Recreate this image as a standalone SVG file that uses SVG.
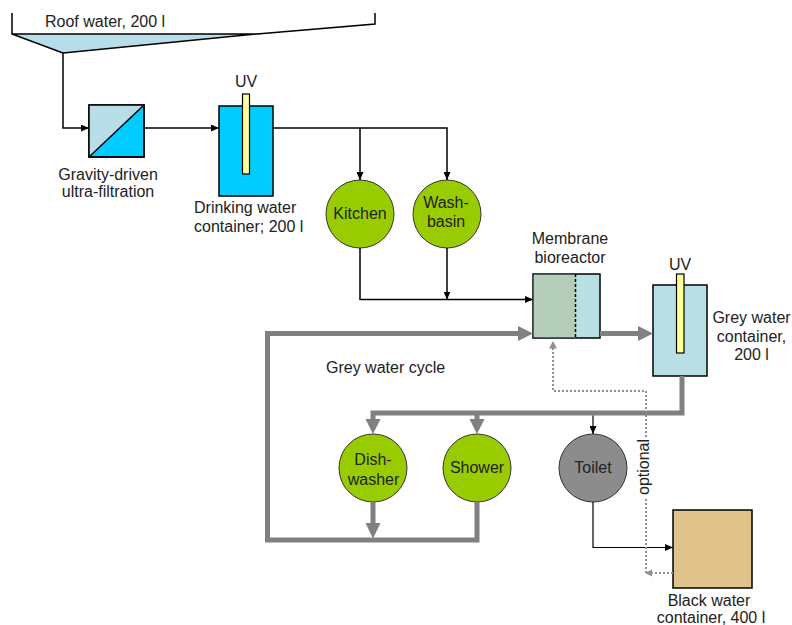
<svg xmlns="http://www.w3.org/2000/svg" width="792" height="625" viewBox="0 0 792 625">
<defs>
<style>
text{font-family:"Liberation Sans",Arial,sans-serif;font-size:16px;fill:#222}
.c{text-anchor:middle}
.blk{fill:none;stroke:#000;stroke-width:1.5}
.thin{fill:none;stroke:#000;stroke-width:1.2}
.grey{fill:none;stroke:#808080;stroke-width:5;stroke-linejoin:miter}
.gh{fill:#808080}
.dot{fill:none;stroke:#909090;stroke-width:2;stroke-dasharray:2 2}
.circ{stroke:#333;stroke-width:1}
.green{fill:#99CC00}
.box{stroke:#000;stroke-width:1.5}
.uv{fill:#FFFF99;stroke:#000;stroke-width:1.2}
</style>
<marker id="ah" markerUnits="userSpaceOnUse" markerWidth="8" markerHeight="7" refX="8" refY="3.5" orient="auto">
<path d="M0,0 L8,3.5 L0,7 z" fill="#000"/>
</marker>
</defs>
<rect width="792" height="625" fill="#fff"/>

<g id="roof">
<polygon points="12,34 257,34 63,53" fill="#B7DEE8" stroke="#000" stroke-width="1.5" stroke-linejoin="round"/>
<path d="M12,13 V34 M257,34 L375,24 V13" class="blk"/>
<text x="45" y="27">Roof water, 200 l</text>
</g>

<g id="filter">
<rect x="89" y="105" width="55" height="52" fill="#00CCFF" class="box"/>
<polygon points="89,105 144,105 89,157" fill="#B7DEE8"/>
<rect x="89" y="105" width="55" height="52" fill="none" class="box"/>
<line x1="89" y1="157" x2="144" y2="105" class="blk"/>
<text x="108" y="180" class="c">Gravity-driven</text>
<text x="108" y="197" class="c">ultra-filtration</text>
</g>

<g id="drinking">
<rect x="219" y="106" width="54" height="90" fill="#00CCFF" class="box"/>
<rect x="242.5" y="94" width="7" height="80" class="uv"/>
<text x="246" y="87" class="c">UV</text>
<text x="194" y="213">Drinking water</text>
<text x="194" y="232">container; 200 l</text>
</g>

<g id="kitchen">
<circle cx="360" cy="214" r="34" class="green circ"/>
<text x="360" y="219" class="c">Kitchen</text>
</g>

<g id="washbasin">
<circle cx="447" cy="214" r="34" class="green circ"/>
<text x="446" y="208" class="c">Wash-</text>
<text x="446" y="227" class="c">basin</text>
</g>

<g id="mbr">
<rect x="533" y="274" width="67" height="64" fill="#B8E0E4" class="box"/>
<rect x="533.75" y="274.75" width="42" height="62.5" fill="#B4CEBA"/>
<line x1="575.5" y1="274" x2="575.5" y2="338" stroke="#000" stroke-width="1.5" stroke-dasharray="3 2"/>
<text x="570" y="243.5" class="c">Membrane</text>
<text x="570" y="262.5" class="c">bioreactor</text>
</g>

<g id="greycontainer">
<rect x="653" y="285" width="54" height="91" fill="#B8E0E4" class="box"/>
<rect x="676.5" y="274" width="7.5" height="79" class="uv"/>
<text x="680" y="270" class="c">UV</text>
<text x="751.5" y="322.5" class="c">Grey water</text>
<text x="751.5" y="341.5" class="c">container,</text>
<text x="751.5" y="360" class="c">200 l</text>
</g>

<g id="cyclelabel">
<text x="326" y="373">Grey water cycle</text>
</g>

<g id="dishwasher">
<circle cx="373" cy="468" r="34" class="green circ"/>
<text x="373" y="465" class="c">Dish-</text>
<text x="373.5" y="484.5" class="c">washer</text>
</g>

<g id="shower">
<circle cx="477" cy="468" r="34" class="green circ"/>
<text x="477" y="473" class="c">Shower</text>
</g>

<g id="toilet">
<circle cx="593" cy="468" r="34" fill="#8C8C8C" class="circ"/>
<text x="593" y="473" class="c">Toilet</text>
</g>

<g id="blackcontainer">
<rect x="673" y="510" width="79" height="78" fill="#DFC38A" class="box"/>
<text x="709" y="605.5" class="c">Black water</text>
<text x="711" y="623" class="c">container, 400 l</text>
</g>

<g id="connectors">
<path d="M63,53 V128 H89" class="blk" marker-end="url(#ah)"/>
<path d="M144,128 H219" class="blk" marker-end="url(#ah)"/>
<path d="M273,128 H447 V180" class="blk" marker-end="url(#ah)"/>
<path d="M360,128 V180" class="blk" marker-end="url(#ah)"/>
<path d="M360,248 V299.5 H533" class="blk" marker-end="url(#ah)"/>
<path d="M447,248 V299.5" class="blk" marker-end="url(#ah)"/>

<path d="M477,502 V540 H267.5 V333.5 H519" class="grey"/>
<polygon points="533,333.5 518,326 518,341" class="gh"/>
<path d="M600,333.5 H639" class="grey"/>
<polygon points="653,333.5 638,326 638,341" class="gh"/>
<path d="M682,376 V413 H373 V420" class="grey"/>
<polygon points="373,434 365.5,419 380.5,419" class="gh"/>
<path d="M477,413 V420" class="grey"/>
<polygon points="477,434 469.5,419 484.5,419" class="gh"/>
<path d="M373,502 V524" class="grey"/>
<polygon points="373,538.5 365.5,523 380.5,523" class="gh"/>

<path d="M593,415.5 V434" class="thin" marker-end="url(#ah)"/>
<path d="M593,502 V547.5 H673" class="thin" marker-end="url(#ah)"/>

<path d="M673,573 H650" class="dot"/>
<polygon points="645,573 652,569.5 652,576.5" fill="#909090"/>
<path d="M646,573 V391 H553 V348" class="dot"/>
<polygon points="553,341 549,348.5 557,348.5" fill="#909090"/>
<rect x="637" y="437" width="15" height="61" fill="#fff"/>
<text transform="translate(648.5,467) rotate(-90)" class="c">optional</text>
</g>
</svg>
